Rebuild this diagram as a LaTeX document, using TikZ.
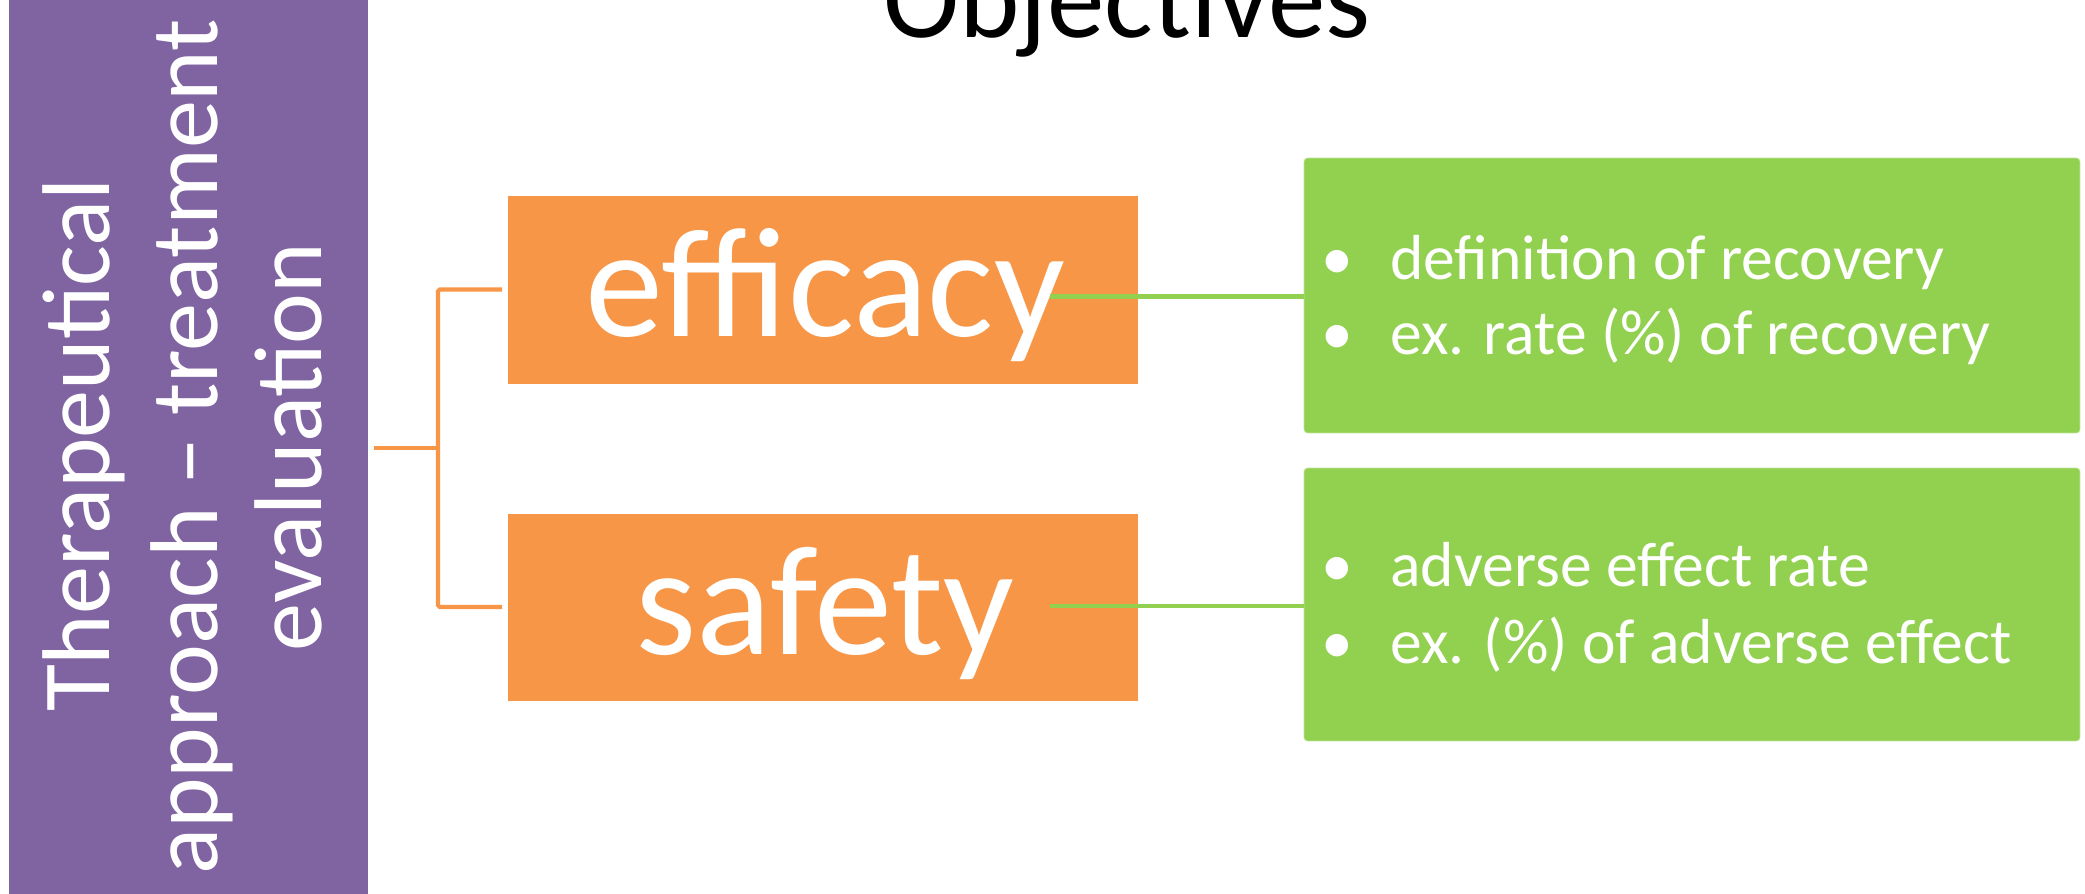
\documentclass[tikz,border=0pt]{standalone}
\usepackage{fontspec}
\setmainfont{Carlito}
\definecolor{purp}{HTML}{8064A2}
\definecolor{oran}{HTML}{F79646}
\definecolor{gree}{HTML}{92D050}
\begin{document}
\begin{tikzpicture}[x=0.02cm,y=-0.02cm,
  box/.style={inner sep=0pt, outer sep=0pt},
  obox/.style={box, fill=oran, draw=white, line width=0.3pt, minimum width=12.62cm},
  gbox/.style={box, fill=gree, draw=gree!60!white, line width=0.4pt, rounded corners=2pt, minimum width=15.52cm},
  vtext/.style={text=white, rotate=90, anchor=base, inner sep=0pt, font=\fontsize{54.8}{60}\selectfont},
  btext/.style={text=white, anchor=base, inner sep=0pt, font=\fontsize{89}{100}\selectfont},
  ltext/.style={text=white, anchor=base west, inner sep=0pt, font=\fontsize{36.2}{43}\selectfont},
  bul/.style={text=white, anchor=base, inner sep=0pt, font=\fontsize{36.2}{43}\selectfont},
  bracket/.style={draw=oran, line width=2.3pt, rounded corners=1pt},
  gline/.style={draw=gree, line width=2.6pt}]
\useasboundingbox (0,0) rectangle (2085,893);
% title
\node[anchor=base, inner sep=0pt, font=\fontsize{65.5}{75}\selectfont] (title) at (1127,37) {Objectives};
% purple
\node[box, fill=purp, minimum width=7.18cm, minimum height=17.92cm] (p) at (188.5,448) {};
\node[vtext] (t1) at (109,445) {Therapeutical};
\node[vtext] (t2) at (217,447) {approach – treatment};
\node[vtext] (t3) at (321,447) {evaluation};
% orange boxes
\node[obox, minimum height=3.78cm] (eff) at (822.5,289.5) {};
\node[obox, minimum height=3.76cm] (saf) at (822.5,607) {};
\node[btext] (effl) at (825,336) {efficacy};
\node[btext] (safl) at (825,654) {safety};
% green boxes
\node[gbox, minimum height=5.5cm] (g1) at (1692,295.5) {};
\node[gbox, minimum height=5.46cm] (g2) at (1692,604.5) {};
\node[bul] (b11) at (1337,279) {•};
\node[ltext] (l11) at (1390,279) {definition of recovery};
\node[bul] (b12) at (1337,354) {•};
\node[ltext] (l12) at (1390,354) {ex. rate (\%) of recovery};
\node[bul] (b21) at (1337,586.5) {•};
\node[ltext] (l21) at (1390,586.5) {adverse effect rate};
\node[bul] (b22) at (1337,663.5) {•};
\node[ltext] (l22) at (1390,663.5) {ex. (\%) of adverse effect};
% bracket
\coordinate (bm) at (438,448);
\draw[bracket] ([shift={(-5,0)}]eff.west) -| (bm) |- ([shift={(-5,0)}]saf.west);
\draw[bracket] ([shift={(6,0)}]p.east) -- (bm);
% green connectors
\coordinate (e1) at (1050,296.5);
\coordinate (e2) at (1050,606);
\draw[gline] (e1) -- (e1 -| g1.west);
\draw[gline] (e2) -- (e2 -| g2.west);
\end{tikzpicture}
\end{document}
